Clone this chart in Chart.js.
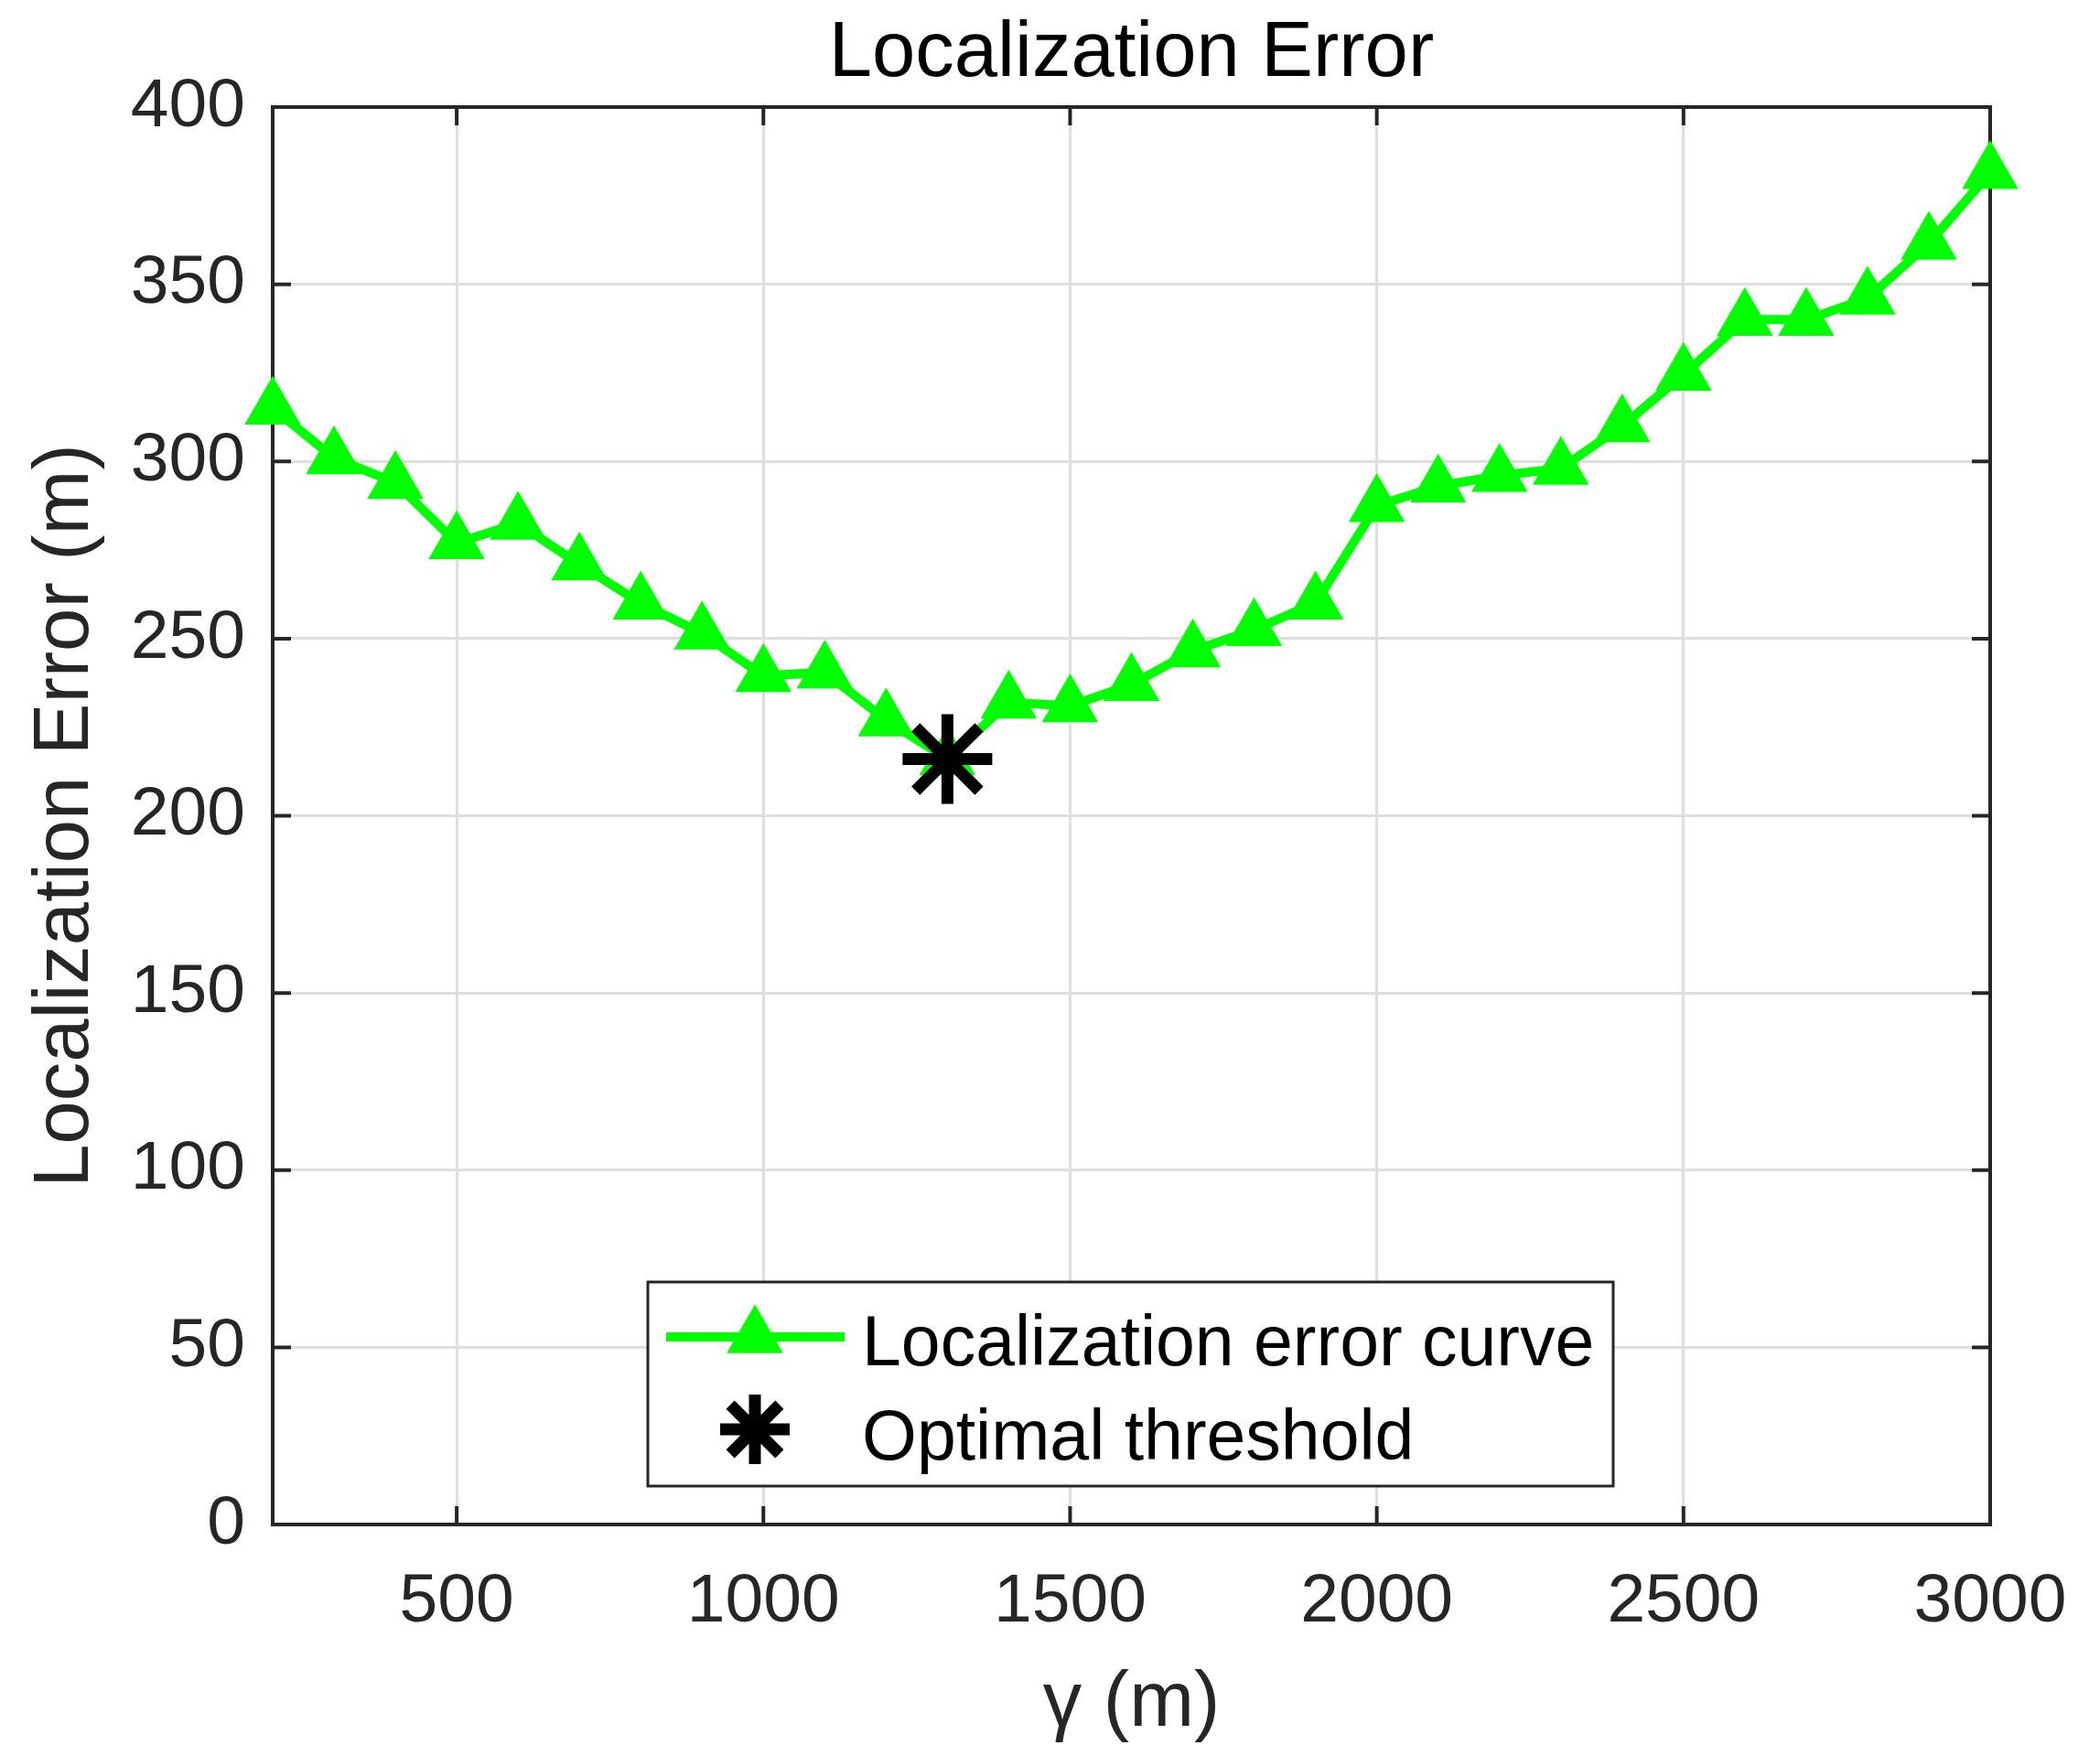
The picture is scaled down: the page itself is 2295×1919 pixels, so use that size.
<!DOCTYPE html>
<html>
<head>
<meta charset="utf-8">
<script src="https://cdn.jsdelivr.net/npm/chart.js@4/dist/chart.umd.min.js"></script>
<style>
  html, body { margin: 0; padding: 0; background: #fff; }
  canvas { display: block; }
</style>
</head>
<body>
<canvas id="errorChart" width="2295" height="1919"></canvas>
<script>
// gamma threshold (m) and the error
const gammaValues = [200, 300, 400, 500, 600, 700, 800, 900, 1000, 1100, 1200, 1300, 1400, 1500,
    1600, 1700, 1800, 1900, 2000, 2100, 2200, 2300, 2400, 2500, 2600, 2700, 2800, 2900, 3000];
const errorValues = [315, 301, 294, 277, 282.5, 271, 260, 251.5, 239.5, 240.5, 227, 216, 232, 231,
    237, 246.5, 252.5, 260, 287.5, 293, 296, 298, 310, 324.5, 340, 340, 346, 361.5, 381.5];
const xTickValues = [500, 1000, 1500, 2000, 2500, 3000];
const yTickValues = [0, 50, 100, 150, 200, 250, 300, 350, 400];

const curveLabel = 'Localization error curve';
const optimalLabel = 'Optimal threshold';

// optimal threshold = the minimum of the curve
const bestIdx = errorValues.indexOf(Math.min(...errorValues));

const fontFamily = '"Liberation Sans", Arial, Helvetica, sans-serif';
const axisColor = '#262626';
const green = '#00ff00';

function drawTriangle(ctx, x, y, r) {
    ctx.beginPath();
    for (let k = 0; k < 3; k++) {
        const a = k * 2 * Math.PI / 3;
        const px = x + Math.sin(a) * r, py = y - Math.cos(a) * r;
        if (k === 0) ctx.moveTo(px, py); else ctx.lineTo(px, py);
    }
    ctx.closePath();
    ctx.fill();
}

function drawStar(ctx, x, y, r) {
    ctx.beginPath();
    for (let k = 0; k < 4; k++) {
        const a = k * Math.PI / 4;
        ctx.moveTo(x - Math.cos(a) * r, y - Math.sin(a) * r);
        ctx.lineTo(x + Math.cos(a) * r, y + Math.sin(a) * r);
    }
    ctx.stroke();
}

// matlab style box with inward ticks, under the data
const boxPlugin = {
    id: 'boxPlugin',
    beforeDatasetsDraw(chart) {
        const {ctx, chartArea: a, scales: {x, y}} = chart;
        const len = 20;
        ctx.save();
        ctx.strokeStyle = axisColor;
        ctx.lineWidth = 4;
        ctx.beginPath();
        xTickValues.forEach(v => {
            const px = x.getPixelForValue(v);
            ctx.moveTo(px, a.bottom); ctx.lineTo(px, a.bottom - len);
            ctx.moveTo(px, a.top); ctx.lineTo(px, a.top + len);
        });
        yTickValues.forEach(v => {
            const py = y.getPixelForValue(v);
            ctx.moveTo(a.left, py); ctx.lineTo(a.left + len, py);
            ctx.moveTo(a.right, py); ctx.lineTo(a.right - len, py);
        });
        ctx.stroke();
        ctx.strokeRect(a.left, a.top, a.right - a.left, a.bottom - a.top);
        ctx.restore();
    }
};

// legend box inside the plot, lower middle
const legendPlugin = {
    id: 'legendPlugin',
    afterDraw(chart) {
        const ctx = chart.ctx;
        const bx = 708, by = 1401, bw = 1055, bh = 223;
        ctx.save();
        ctx.fillStyle = '#fff';
        ctx.fillRect(bx, by, bw, bh);
        ctx.strokeStyle = axisColor;
        ctx.lineWidth = 3;
        ctx.strokeRect(bx, by, bw, bh);

        // row 1: line + triangle
        ctx.strokeStyle = green;
        ctx.lineWidth = 10;
        ctx.beginPath();
        ctx.moveTo(728, 1461); ctx.lineTo(923, 1461);
        ctx.stroke();
        ctx.fillStyle = green;
        drawTriangle(ctx, 825, 1461, 35.5);

        // row 2: star
        ctx.strokeStyle = '#000';
        ctx.lineWidth = 13;
        drawStar(ctx, 825, 1562, 38);

        ctx.fillStyle = '#000';
        ctx.font = '77px ' + fontFamily;
        ctx.textBaseline = 'alphabetic';
        ctx.textAlign = 'left';
        ctx.fillText(curveLabel, 942, 1492);
        ctx.fillText(optimalLabel, 942, 1595);
        ctx.restore();
    }
};

const ctx = document.getElementById('errorChart').getContext('2d');
new Chart(ctx, {
    type: 'line',
    data: {
        datasets: [{
            label: curveLabel,
            data: gammaValues.map((g, i) => ({x: g, y: errorValues[i]})),
            borderColor: green,
            backgroundColor: green,
            borderWidth: 10,
            tension: 0,
            pointStyle: 'triangle',
            pointRadius: 35.5,
            pointBorderWidth: 0,
            pointBackgroundColor: green,
            clip: false,
            order: 1
        }, {
            label: optimalLabel,
            data: [{x: gammaValues[bestIdx], y: errorValues[bestIdx]}],
            showLine: false,
            borderColor: '#000',
            pointStyle: 'star',
            pointRadius: 49,
            pointBorderWidth: 13,
            pointBorderColor: '#000',
            clip: false,
            order: 0
        }]
    },
    options: {
        responsive: false,
        devicePixelRatio: 1,
        animation: false,
        events: [],
        layout: { padding: { left: 0, right: 120, top: 0, bottom: 0 } },
        plugins: {
            legend: { display: false },
            tooltip: { enabled: false },
            title: {
                display: true,
                fullSize: false,
                text: 'Localization Error',
                color: '#000',
                font: { family: fontFamily, size: 85, weight: 'normal', lineHeight: 1.2 },
                padding: { top: 9, bottom: 6 }
            }
        },
        scales: {
            x: {
                type: 'linear',
                min: 200,
                max: 3000,
                afterBuildTicks: s => { s.ticks = xTickValues.map(v => ({value: v})); },
                afterFit: s => { s.height = 253; },
                border: { display: false },
                grid: { color: '#dedede', lineWidth: 3, drawTicks: false },
                ticks: {
                    color: axisColor,
                    padding: 0,
                    maxRotation: 0,
                    // tall line box puts the label centre ~85px under the axis
                    font: { family: fontFamily, size: 75, lineHeight: 2.2667 },
                    callback: v => String(v)
                },
                title: {
                    display: true,
                    text: 'γ (m)',
                    color: axisColor,
                    font: { family: fontFamily, size: 85, lineHeight: 1.2 },
                    padding: { top: 0, bottom: 5 }
                }
            },
            y: {
                min: 0,
                max: 400,
                afterBuildTicks: s => { s.ticks = yTickValues.map(v => ({value: v})); },
                afterFit: s => { s.width = 298; },
                border: { display: false },
                grid: { color: '#dedede', lineWidth: 3, drawTicks: false },
                ticks: {
                    color: axisColor,
                    padding: 30,
                    font: { family: fontFamily, size: 75, lineHeight: 1.2 },
                    callback: v => String(v)
                },
                title: {
                    display: true,
                    text: 'Localization Error (m)',
                    color: axisColor,
                    font: { family: fontFamily, size: 85, lineHeight: 1.2 },
                    padding: { top: 22, bottom: 0 }
                }
            }
        }
    },
    plugins: [boxPlugin, legendPlugin]
});
</script>
</body>
</html>
